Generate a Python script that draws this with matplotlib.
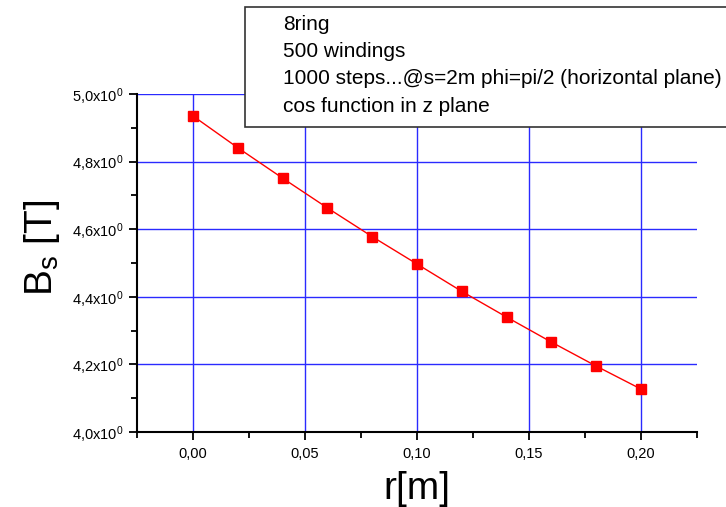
"""B_s vs r for the 8ring coil."""

import matplotlib

matplotlib.use("Agg")
import matplotlib.pyplot as plt
from matplotlib.patches import Rectangle
from matplotlib.ticker import FuncFormatter, MultipleLocator

plt.rcParams["font.family"] = ["Liberation Sans", "DejaVu Sans"]
plt.rcParams["mathtext.fontset"] = "custom"
plt.rcParams["mathtext.rm"] = "Liberation Sans"
plt.rcParams["mathtext.it"] = "Liberation Sans:italic"

r = [0.00, 0.02, 0.04, 0.06, 0.08, 0.10, 0.12, 0.14, 0.16, 0.18, 0.20]
b_s = [4.935, 4.841, 4.751, 4.663, 4.578, 4.497, 4.416, 4.340, 4.266, 4.195, 4.127]
notes = [
    "8ring",
    "500 windings",
    "1000 steps...@s=2m phi=pi/2 (horizontal plane)",
    "cos function in z plane",
]

fig = plt.figure(figsize=(7.26, 5.07), dpi=100)
ax = fig.add_axes([137 / 726, 1 - 432 / 507, 560 / 726, 338 / 507])

ax.plot(r, b_s, color="red", linewidth=1, marker="s", markersize=6.5,
        markeredgecolor="red", zorder=3)

ax.set_xlim(-0.025, 0.225)
ax.set_ylim(4.0, 5.0)
ax.xaxis.set_major_locator(MultipleLocator(0.05))
ax.xaxis.set_minor_locator(MultipleLocator(0.025))
ax.yaxis.set_major_locator(MultipleLocator(0.2))
ax.yaxis.set_minor_locator(MultipleLocator(0.1))
ax.xaxis.set_major_formatter(FuncFormatter(lambda v, p: f"{v:.2f}".replace(".", ",")))
ax.yaxis.set_major_formatter(
    FuncFormatter(lambda v, p: f"{v:.1f}".replace(".", ",") + r"x10$^\mathregular{0}$")
)
ax.tick_params(which="major", direction="out", length=6, width=1.3, labelsize=10.5)
ax.tick_params(which="minor", direction="out", length=4, width=1.3)
ax.tick_params(axis="x", pad=5)

ax.grid(True, which="major", color="#2a2aff", linewidth=1)
ax.set_axisbelow(True)
ax.spines[["top", "right"]].set_visible(False)
ax.spines[["left", "bottom"]].set_linewidth(1.5)

ax.set_xlabel("r[m]", fontsize=28)
ax.xaxis.set_label_coords(0.5, -0.115)
ax.set_ylabel(r"B$_\mathregular{s}$ [T]", fontsize=28)
ax.yaxis.set_label_coords(-0.134, 0.545)

fig.patches.append(
    Rectangle((245 / 726, 1 - 127 / 507), 0.7, 120 / 507, transform=fig.transFigure,
              facecolor="white", edgecolor="#333333", linewidth=1.2, zorder=5)
)
for i, line in enumerate(notes):
    fig.text(283 / 726, 1 - (24 + 27.5 * i) / 507, line, fontsize=15,
             va="center", ha="left", zorder=6)

fig.savefig("out.png", dpi=100)
